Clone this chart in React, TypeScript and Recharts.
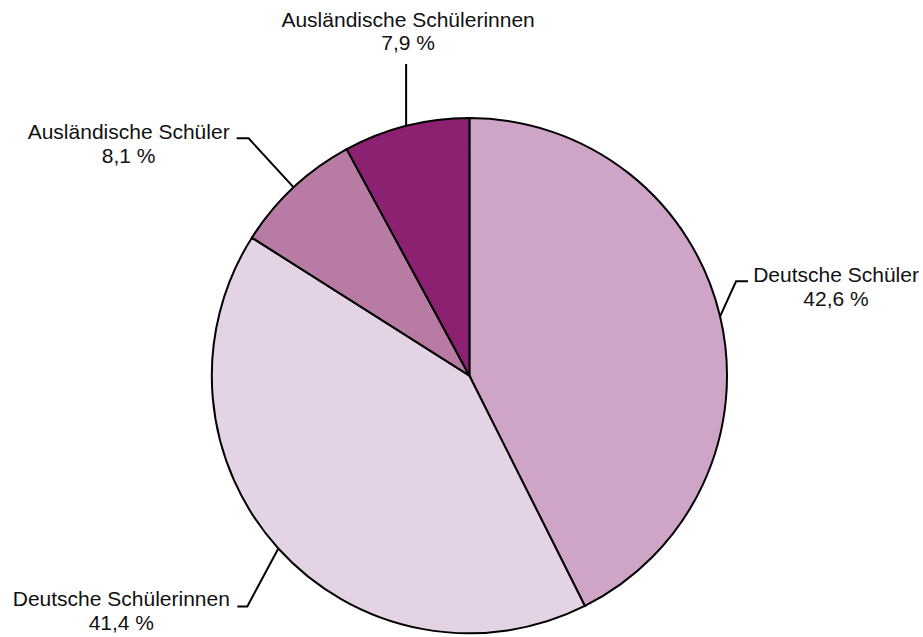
import { PieChart, Pie, Cell } from 'recharts'

const CATEGORIES = [
  'Deutsche Schüler',
  'Deutsche Schülerinnen',
  'Ausländische Schüler',
  'Ausländische Schülerinnen',
]
const SHARES = [42.6, 41.4, 8.1, 7.9]
const COLORS = ['#cea5c6', '#e4d3e4', '#b77ba4', '#8c2171']

// leader elbow (from slice edge), horizontal tail, text centre (from elbow)
const LABEL_LAYOUT = [
  { ex: 16, ey: -35, hx: 12, tx: 100, ty: 1 },
  { ex: -31, ey: 58, hx: -10, tx: -126, ty: 0 },
  { ex: -45, ey: -49, hx: -12, tx: -120, ty: 1 },
  { ex: 0, ey: -62, hx: 0, tx: 2, ty: -37 },
]

const RADIAN = Math.PI / 180
const FONT = '"Liberation Sans", Arial, sans-serif'

const data = CATEGORIES.map((name, i) => ({ name, value: SHARES[i] }))

function renderLabel(props: any) {
  const { cx, cy, midAngle, outerRadius, index, name, value } = props
  const lay = LABEL_LAYOUT[index]
  const x0 = cx + outerRadius * Math.cos(-midAngle * RADIAN)
  const y0 = cy + outerRadius * Math.sin(-midAngle * RADIAN)
  const x1 = x0 + lay.ex
  const y1 = y0 + lay.ey
  const x2 = x1 + lay.hx
  const tx = x1 + lay.tx
  const ty = y1 + lay.ty
  return (
    <g key={`lbl-${index}`}>
      <polyline
        points={`${x0},${y0} ${x1},${y1} ${x2},${y1}`}
        fill="none"
        stroke="#000"
        strokeWidth={2}
      />
      <text x={tx} y={ty} textAnchor="middle" fontFamily={FONT} fontSize={21} fill="#111">
        {name}
      </text>
      <text x={tx} y={ty + 23.5} textAnchor="middle" fontFamily={FONT} fontSize={21} fill="#111">
        {`${value.toFixed(1).replace('.', ',')} %`}
      </text>
    </g>
  )
}

export default function App() {
  return (
    <div style={{ width: 923, height: 637, background: '#fff' }}>
      <style>{'body{margin:0}'}</style>
      <PieChart width={923} height={637} margin={{ top: 0, right: 0, bottom: 0, left: 0 }}>
        <Pie
          data={data}
          dataKey="value"
          nameKey="name"
          cx={469.4}
          cy={375.7}
          outerRadius={257.6}
          startAngle={90}
          endAngle={-270}
          stroke="#000"
          strokeWidth={2}
          label={renderLabel}
          labelLine={false}
          isAnimationActive={false}
        >
          {data.map((d, i) => (
            <Cell key={d.name} fill={COLORS[i]} />
          ))}
        </Pie>
      </PieChart>
    </div>
  )
}
